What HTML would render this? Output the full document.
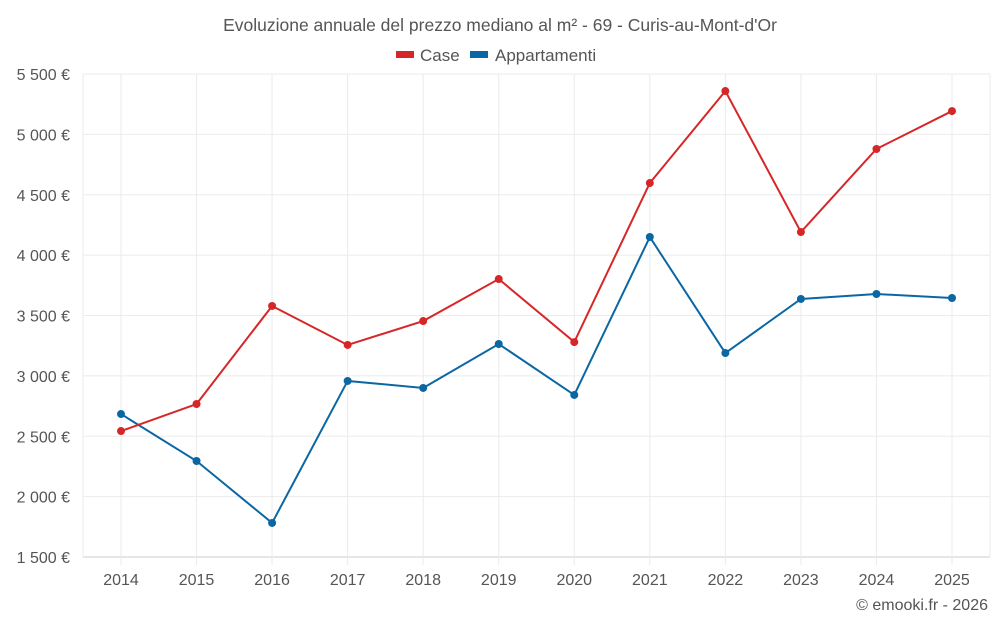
<!DOCTYPE html>
<html><head><meta charset="utf-8"><style>
body{margin:0;background:#fff;font-family:"Liberation Sans",sans-serif;}
svg text{font-family:"Liberation Sans",sans-serif;fill:#555;}
</style></head><body>
<svg id="chart" width="1000" height="625">
<text x="500" y="31" text-anchor="middle" font-size="17.5">Evoluzione annuale del prezzo mediano al m² - 69 - Curis-au-Mont-d'Or</text>
<g><rect x="396" y="51" width="18" height="7" fill="#d62728"/><text x="420" y="61" font-size="17">Case</text></g>
<g><rect x="470" y="51" width="18" height="7" fill="#0a67a3"/><text x="495" y="61" font-size="17">Appartamenti</text></g>
<g id="grid"></g><g id="axes"></g><g id="series"></g>
<text x="988" y="610" text-anchor="end" font-size="16">© emooki.fr - 2026</text>
</svg>
<script>
const years=[2014,2015,2016,2017,2018,2019,2020,2021,2022,2023,2024,2025];
const caseVals=[2543,2767,3579,3256,3454,3802,3280,4597,5359,4191,4879,5193];
const apptVals=[2684,2295,1782,2958,2900,3264,2842,4150,3189,3637,3678,3645];
const yTicks=[1500,2000,2500,3000,3500,4000,4500,5000,5500];
const NS="http://www.w3.org/2000/svg";
const x=i=>121+i*(952-121)/11;
const y=v=>557-(v-1500)/4000*(557-74);
function mk(t,a,p){const e=document.createElementNS(NS,t);for(const k in a)e.setAttribute(k,a[k]);p.appendChild(e);return e;}
const g=document.getElementById('grid'),ax=document.getElementById('axes'),s=document.getElementById('series');
yTicks.forEach(v=>{
 const l=mk('line',{x1:83,x2:990,y1:y(v),y2:y(v),stroke:v===1500?'#ccc':'#ebebeb'},g);
 
 
 const t=mk('text',{x:70,y:y(v)+6,'text-anchor':'end','font-size':16},ax);
 t.textContent=v.toLocaleString('fr-FR').replace(/\s/g,' ')+' €';
 
 
});
mk('line',{x1:83,x2:83,y1:74,y2:557,stroke:'#ebebeb'},g);
mk('line',{x1:990,x2:990,y1:74,y2:557,stroke:'#ebebeb'},g);
years.forEach((yr,i)=>{
 const l=mk('line',{x1:x(i),x2:x(i),y1:74,y2:565,stroke:'#ebebeb'},g);
 
 
 const t=mk('text',{x:x(i),y:585,'text-anchor':'middle','font-size':16},ax);
 t.textContent=yr;
 
 
});
function series(vals,col,name){
 const p=mk('polyline',{points:vals.map((v,i)=>x(i)+','+y(v)).join(' '),fill:'none',stroke:col,'stroke-width':2},s);
 
 
 vals.forEach((v,i)=>{
  const c=mk('circle',{cx:x(i),cy:y(v),r:4,fill:col},s);
  
  
 });
}
series(apptVals,'#0a67a3','appartamenti');
series(caseVals,'#d62728','case');
</script>
</body></html>
